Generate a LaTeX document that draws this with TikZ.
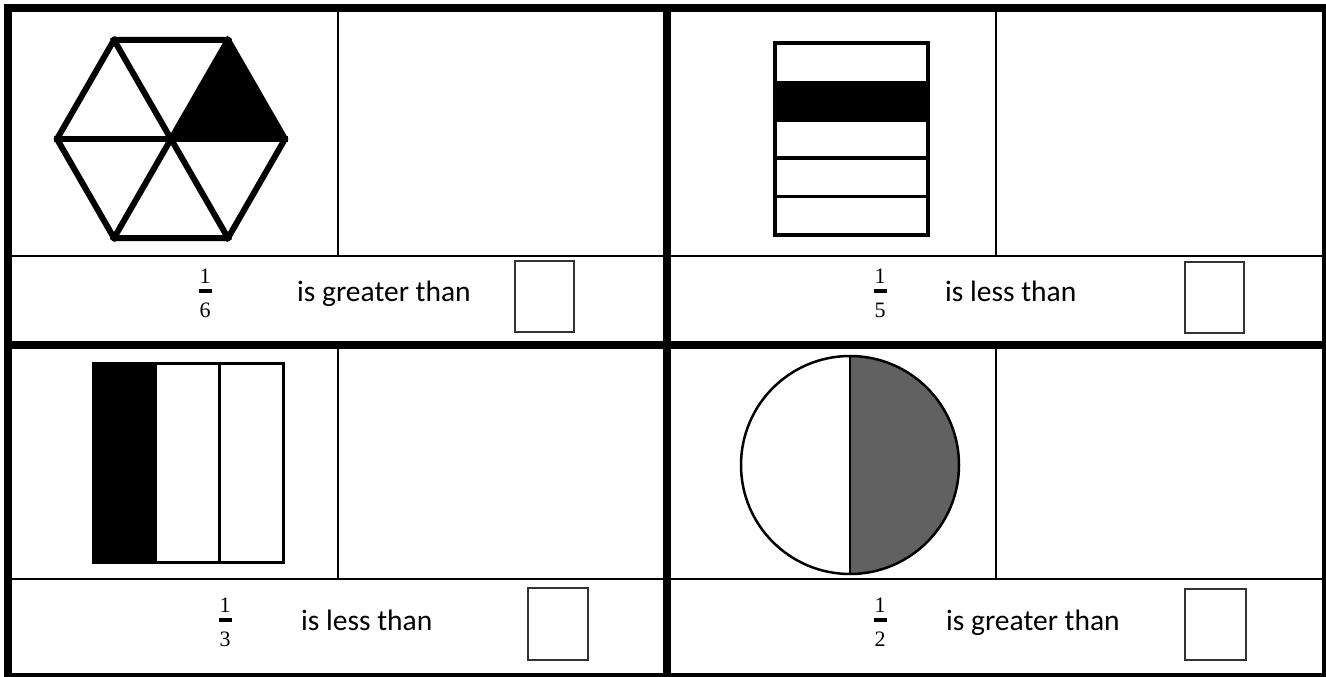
\documentclass[tikz,border=0pt]{standalone}
\usepackage{fontspec}
\setmainfont{Carlito}
\newfontfamily\digitfont{Liberation Serif}
\tikzset{
  thick frame/.style={line width=8pt},
  thin rule/.style={line width=2.4pt},
  lbl/.style={inner sep=0pt, anchor=base west, font=\fontsize{29.5}{31}\selectfont},
  fdigit/.style={inner sep=0pt, font=\digitfont\fontsize{22}{22}\selectfont},
  fbar/.style={line width=3.2pt},
  ansbox/.style={draw=black!80, line width=1.4pt},
  hexline/.style={line width=6pt, line join=miter, line cap=rect},
}
\begin{document}
\begin{tikzpicture}[x=1pt,y=-1pt]
\useasboundingbox (0,0) rectangle (1326,677);
\clip (0,0) rectangle (1326,677);
% ---- grid ----
\draw[thin rule] (8,256) -- (1326,256);
\draw[thin rule] (8,579) -- (1326,579);
\draw[thin rule] (338,8) -- (338,256);
\draw[thin rule] (996,8) -- (996,256);
\draw[thin rule] (338,345) -- (338,579);
\draw[thin rule] (996,345) -- (996,579);
\draw[thick frame] (8,345) -- (1326,345);
\draw[thick frame] (667,8) -- (667,677);
\draw[thick frame] (8,8) rectangle (1326,677);
% ---- hexagon (1/6) ----
\coordinate (hc) at (171,139);
\coordinate (h0) at (285,139);
\coordinate (h1) at (228,40);
\coordinate (h2) at (114,40);
\coordinate (h3) at (57,139);
\coordinate (h4) at (114,238);
\coordinate (h5) at (228,238);
\fill (hc) -- (h1) -- (h0) -- cycle;
\draw[hexline] (h0) -- (h1) -- (h2) -- (h3) -- (h4) -- (h5) -- cycle;
\draw[hexline] (h0) -- (h3);
\draw[hexline] (h1) -- (h4);
\draw[hexline] (h2) -- (h5);
% ---- striped rectangle (1/5) ----
\fill (775,81.4) rectangle (928,119.8);
\draw[line width=3.5pt] (775,43) rectangle (928,235);
\draw[line width=3.5pt] (775,158.2) -- (928,158.2);
\draw[line width=3.5pt] (775,196.6) -- (928,196.6);
\draw[line width=3.5pt] (775,119.8) -- (928,119.8);
% ---- thirds rectangle (1/3) ----
\fill (93,363) rectangle (157,562);
\draw[line width=3pt] (93,363) rectangle (283,562);
\draw[line width=3pt] (219,363) -- (219,562);
% ---- circle (1/2) ----
\fill[black!62] (850,356) arc[start angle=-90, end angle=90, radius=109] -- cycle;
\draw[line width=2.5pt] (850,465) circle[radius=109];
\draw[line width=2.5pt] (850,356) -- (850,574);
% ---- text rows ----
\node[fdigit] (n1) at (205,276) {1};
\draw[fbar] (198.5,291) -- (211.5,291);
\node[fdigit] (d1) at (205,310) {6};
\node[lbl] (t1) at (297,301) {is greater than};
\draw[ansbox] (515,261) rectangle (574,332);

\node[fdigit] (n2) at (880,276) {1};
\draw[fbar] (873.5,291) -- (886.5,291);
\node[fdigit] (d2) at (880,310) {5};
\node[lbl] (t2) at (945,301) {is less than};
\draw[ansbox] (1185,262) rectangle (1244,333);

\node[fdigit] (n3) at (225,605) {1};
\draw[fbar] (218.5,620) -- (231.5,620);
\node[fdigit] (d3) at (225,639) {3};
\node[lbl] (t3) at (301,630) {is less than};
\draw[ansbox] (528,588) rectangle (588,660);

\node[fdigit] (n4) at (880,605) {1};
\draw[fbar] (873.5,620) -- (886.5,620);
\node[fdigit] (d4) at (880,639) {2};
\node[lbl] (t4) at (946,630) {is greater than};
\draw[ansbox] (1185,589) rectangle (1246,660);
\end{tikzpicture}
\end{document}
